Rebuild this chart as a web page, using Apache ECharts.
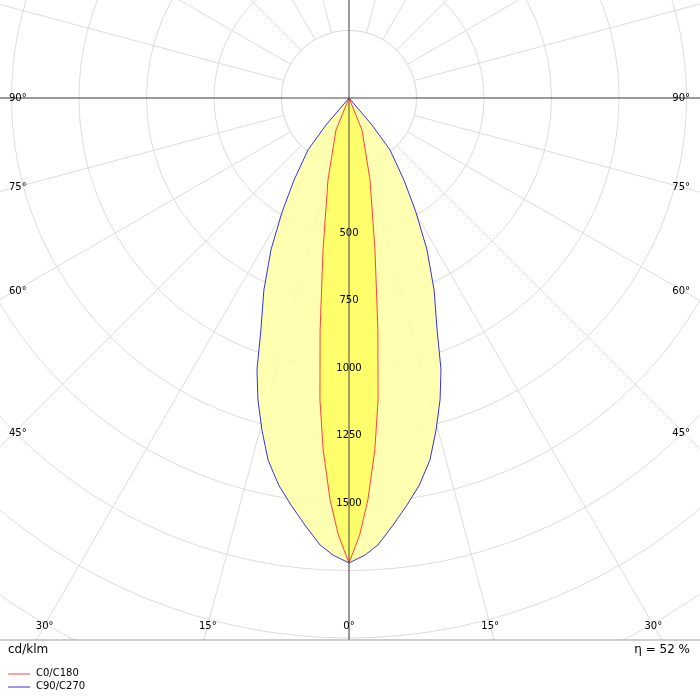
<!DOCTYPE html>
<html><head><meta charset="utf-8">
<script src="https://cdn.jsdelivr.net/npm/echarts@6/dist/echarts.min.js"></script>
<style>html,body{margin:0;padding:0;background:#fff}#c{width:700px;height:700px}</style>
</head><body><div id="c"></div>
<script>
// gamma (deg from nadir) and intensity (cd/klm)
const c90Gamma = [45, 40.4, 38.3, 33.8, 30.4, 27.2, 23.9, 20.8, 18.7, 16.8, 14.7, 12.6, 10.3, 8.1, 5.9, 3.7, 2.0, 0];
const c90Value = [0, 131, 245, 366, 490, 632, 778, 919, 1063, 1167, 1271, 1374, 1457, 1523, 1590, 1659, 1694, 1722];
const c0Gamma = [30, 22.1, 14.4, 9.7, 7.1, 5.5, 4.2, 2.7, 1.4, 0];
const c0Value = [0, 128, 313, 571, 866, 1123, 1307, 1489, 1619, 1722];
const radiusTicks = [500, 750, 1000, 1250, 1500];
const angleTickLabels = [0, 15, 30, 45, 60, 75, 90];

function loop(g, v) {
  const pts = [];
  for (let i = 0; i < g.length; i++) pts.push([v[i], 360 - g[i]]);
  for (let i = g.length - 1; i >= 0; i--) pts.push([v[i], g[i]]);
  return pts;
}
const outer = loop(c90Gamma, c90Value), inner = loop(c0Gamma, c0Value);

const chart = echarts.init(document.getElementById('c'));
const CX = 349, CY = 98, R = 675, RMAX = 2500;
function poly(pts, fill, stroke) {
  return {
    type: 'custom', coordinateSystem: 'polar', z: 10, silent: true,
    data: [0],
    renderItem: function (p, api) {
      return { type: 'polygon', shape: { points: pts.map(q => api.coord(q)) },
        style: { fill: fill, stroke: stroke, lineWidth: 1 } };
    }
  };
}
chart.setOption({
  animation: false,
  polar: { center: [CX, CY], radius: R },
  angleAxis: { type: 'value', min: 0, max: 360, interval: 15, startAngle: 270, clockwise: true,
    axisLine: { show: false }, axisTick: { show: false }, axisLabel: { show: false },
    splitLine: { lineStyle: { color: '#dcdcdc' } } },
  radiusAxis: { type: 'value', min: 0, max: RMAX, interval: 250,
    axisLine: { show: false }, axisTick: { show: false }, axisLabel: { show: false },
    splitLine: { lineStyle: { color: '#dcdcdc' } } },
  series: [poly(outer, 'rgba(255,255,165,0.85)', '#3333dd'), poly(inner, 'rgba(255,255,100,0.9)', '#ff4040')]
});

const els = [];
const p250 = chart.convertToPixel({ polarIndex: 0 }, [250, 0]);
const r250 = Math.abs(p250[1] - CY);
els.push({ type: 'circle', z: 5, shape: { cx: CX, cy: CY, r: r250 }, style: { fill: '#fff', stroke: '#dcdcdc' } });
els.push({ type: 'line', z: 20, shape: { x1: 0, y1: CY, x2: 700, y2: CY }, style: { stroke: '#444', lineWidth: 1 } });
els.push({ type: 'line', z: 20, shape: { x1: CX, y1: 0, x2: CX, y2: 640 }, style: { stroke: '#444', lineWidth: 1 } });
radiusTicks.forEach(r => {
  const p = chart.convertToPixel({ polarIndex: 0 }, [r, 0]);
  els.push({ type: 'text', z: 30, x: p[0], y: p[1], style: { text: String(r), fill: '#000', font: '10px DejaVu Sans', align: 'center', verticalAlign: 'middle' } });
});
const INSET = 335, BOTTOM = 625;
angleTickLabels.forEach(a => {
  const t = a * Math.PI / 180, dx = Math.sin(t), dy = Math.cos(t);
  [1, -1].forEach(s => {
    if (a === 0 && s === -1) return;
    const tx = dx > 1e-6 ? INSET / dx : Infinity;
    const ty = dy > 1e-6 ? (BOTTOM - CY) / dy : Infinity;
    if (ty < tx) {
      const x = CX + s * dx * ty;
      els.push({ type: 'text', z: 30, x: x, y: 626, style: { text: a + '°', fill: '#000', font: '10px DejaVu Sans', align: 'center', verticalAlign: 'middle' } });
    } else {
      const y = CY + dy * tx;
      els.push({ type: 'text', z: 30, x: s > 0 ? 690 : 9, y: y, style: { text: a + '°', fill: '#000', font: '10px DejaVu Sans', align: s > 0 ? 'right' : 'left', verticalAlign: 'middle' } });
    }
  });
});
els.push({ type: 'rect', z: 40, shape: { x: 0, y: 640, width: 700, height: 60 }, style: { fill: '#fff' } });
els.push({ type: 'line', z: 41, shape: { x1: 0, y1: 640, x2: 700, y2: 640 }, style: { stroke: '#999' } });
els.push({ type: 'text', z: 41, x: 8, y: 650, style: { text: 'cd/klm', fill: '#000', font: '12px DejaVu Sans', verticalAlign: 'middle' } });
els.push({ type: 'text', z: 41, x: 690, y: 650, style: { text: 'η = 52 %', fill: '#000', font: '12px DejaVu Sans', align: 'right', verticalAlign: 'middle' } });
els.push({ type: 'line', z: 41, shape: { x1: 8, y1: 674, x2: 30, y2: 674 }, style: { stroke: '#ff4040' } });
els.push({ type: 'text', z: 41, x: 36, y: 673, style: { text: 'C0/C180', fill: '#000', font: '10px DejaVu Sans', verticalAlign: 'middle' } });
els.push({ type: 'line', z: 41, shape: { x1: 8, y1: 687, x2: 30, y2: 687 }, style: { stroke: '#3333dd' } });
els.push({ type: 'text', z: 41, x: 36, y: 686, style: { text: 'C90/C270', fill: '#000', font: '10px DejaVu Sans', verticalAlign: 'middle' } });
chart.setOption({ graphic: { elements: els } });
</script></body></html>
